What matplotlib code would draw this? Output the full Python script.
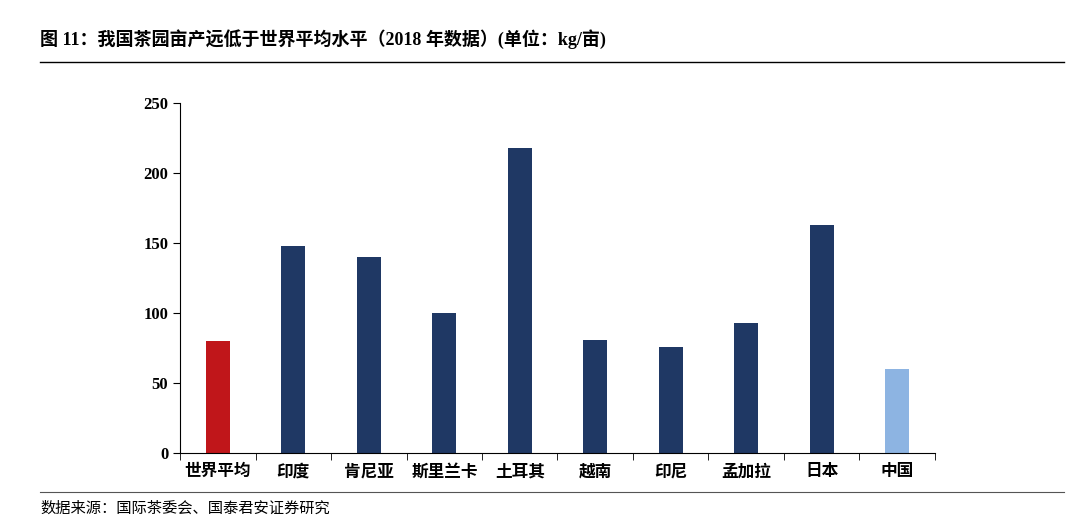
import matplotlib
matplotlib.use("Agg")
import matplotlib.pyplot as plt
from matplotlib.lines import Line2D
import numpy as np

categories = ["世界平均", "印度", "肯尼亚", "斯里兰卡", "土耳其", "越南", "印尼", "孟加拉", "日本", "中国"]
values = [80, 148, 140, 100, 218, 81, 76, 93, 163, 60]
colors = ["#C0161A"] + ["#1F3864"] * 8 + ["#8DB4E2"]
yticks = [0, 50, 100, 150, 200, 250]

fam = ["Liberation Serif", "Noto Sans CJK SC"]
plt.rcParams["font.family"] = fam

fig = plt.figure(figsize=(10.8, 5.25), dpi=100)
ax = fig.add_axes([0.1667, 0.137, 0.699, 0.667])
x = np.arange(len(categories))
ax.bar(x, values, width=0.32, color=colors)
ax.set_xlim(-0.5, len(categories) - 0.5)
ax.set_ylim(0, 250)
ax.set_yticks(yticks)
ax.set_yticklabels([str(v) for v in yticks], fontsize=12, fontweight="bold")
ax.set_xticks(x)
ax.set_xticklabels(categories, fontsize=12, fontweight="bold")
ax.set_xticks(np.arange(-0.5, len(categories)), minor=True)
ax.tick_params(axis="x", which="major", length=0, pad=8)
ax.tick_params(axis="x", which="minor", length=5, direction="out")
ax.tick_params(axis="y", length=5, direction="out")
for s in ["top", "right"]:
    ax.spines[s].set_visible(False)
for s in ["left", "bottom"]:
    ax.spines[s].set_color("black")

fig.text(0.037, 0.925, "图 11：我国茶园亩产远低于世界平均水平（2018 年数据）(单位：kg/亩)",
         fontsize=13, fontweight="bold", va="center")
fig.add_artist(Line2D([0.037, 0.985], [0.882, 0.882], color="black", lw=1))
fig.add_artist(Line2D([0.037, 0.985], [0.063, 0.063], color="#555555", lw=0.8))
fig.text(0.037, 0.032, "数据来源：国际茶委会、国泰君安证券研究", fontsize=11, va="center")
fig.savefig("out.png", dpi=100)
